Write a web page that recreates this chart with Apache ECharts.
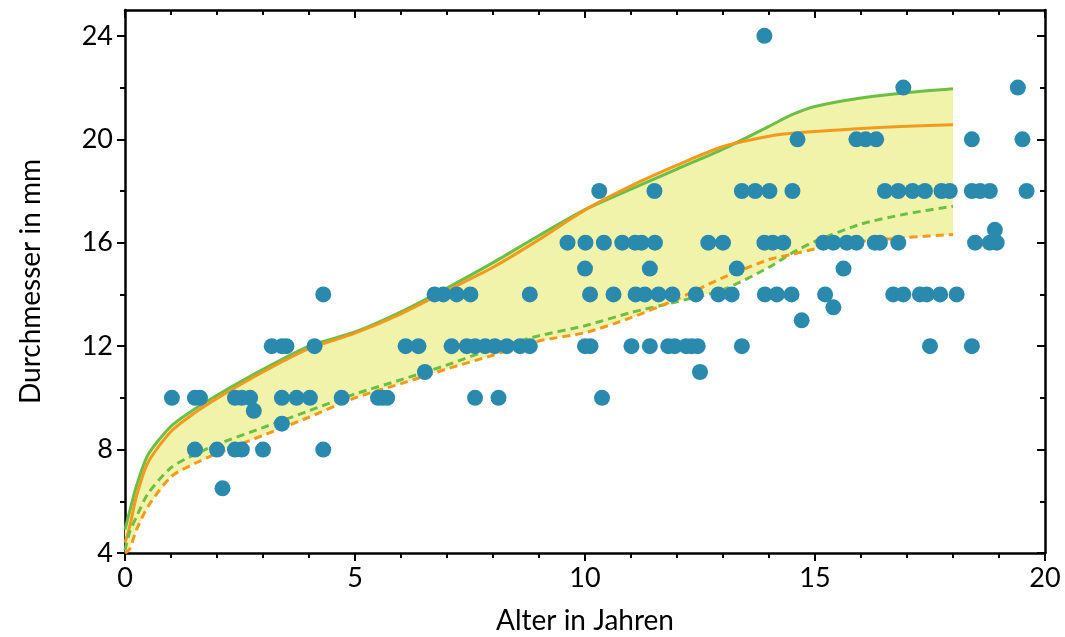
<!DOCTYPE html>
<html>
<head>
<meta charset="utf-8">
<script src="https://cdn.jsdelivr.net/npm/echarts@6/dist/echarts.min.js"></script>
<style>
  html, body { margin: 0; padding: 0; background: #ffffff; }
  #chart { width: 1065px; height: 637px; }
</style>
</head>
<body>
<div id="chart"></div>
<script>
// Kurven (Stützstellen in Jahren)
const curveX = [0, 0.1, 0.25, 0.5, 1, 1.5, 2, 3, 4, 5, 6, 7, 8, 9, 10, 11, 12, 13, 14, 14.5, 15, 16, 17, 18];
const greenUpper = [4.9, 5.6, 6.6, 7.8, 8.9, 9.55, 10.1, 11.1, 12.0, 12.55, 13.33, 14.25, 15.23, 16.28, 17.28, 18.07, 18.85, 19.62, 20.5, 20.95, 21.27, 21.6, 21.8, 21.95];
const orangeUpper = [4.4, 5.0, 6.2, 7.5, 8.7, 9.4, 9.98, 11.0, 11.9, 12.5, 13.25, 14.15, 15.05, 16.12, 17.27, 18.2, 19.0, 19.72, 20.12, 20.23, 20.3, 20.42, 20.5, 20.56];
const greenLower = [4.1, 4.8, 5.4, 6.3, 7.3, 7.8, 8.2, 8.85, 9.5, 10.15, 10.7, 11.27, 11.9, 12.4, 12.79, 13.3, 13.72, 14.18, 15.05, 15.6, 16.05, 16.72, 17.12, 17.41];
const orangeLower = [4.0, 4.15, 4.9, 5.8, 6.95, 7.45, 7.85, 8.55, 9.25, 10.0, 10.55, 11.12, 11.65, 12.2, 12.52, 13.1, 13.82, 14.65, 15.35, 15.55, 15.76, 16.05, 16.2, 16.32];

// Messpunkte: Durchmesser-Stufe und die zugehörigen Alterswerte
const levels = [24, 22, 20, 18, 16.5, 16, 15, 14, 13.5, 13, 12, 11, 10, 9.5, 9, 8, 6.5];
const agesAtLevel = [
  [13.9],
  [16.92, 19.41],
  [14.62, 15.9, 16.1, 16.33, 18.41, 19.51],
  [10.31, 11.51, 13.41, 13.7, 14.01, 14.51, 16.52, 16.81, 17.12, 17.39, 17.75, 17.93, 18.41, 18.59, 18.8, 19.6],
  [18.91],
  [9.62, 10.01, 10.41, 10.81, 11.09, 11.23, 11.52, 12.68, 13.0, 13.9, 14.08, 14.31, 15.18, 15.4, 15.69, 15.9, 16.3, 16.41, 16.81, 18.48, 18.8, 18.95],
  [10.0, 11.41, 13.3, 15.62],
  [4.31, 6.73, 6.92, 7.21, 7.51, 8.8, 10.11, 10.62, 11.1, 11.3, 11.6, 11.9, 12.41, 12.9, 13.19, 13.91, 14.17, 14.49, 15.22, 16.7, 16.92, 17.28, 17.43, 17.72, 18.08],
  [15.4],
  [14.71],
  [3.19, 3.41, 3.51, 4.12, 6.1, 6.38, 7.1, 7.43, 7.61, 7.83, 8.04, 8.3, 8.59, 8.8, 10.0, 10.12, 11.01, 11.41, 11.81, 11.95, 12.2, 12.32, 12.45, 13.41, 17.5, 18.41],
  [6.52, 12.5],
  [1.02, 1.52, 1.63, 2.39, 2.54, 2.72, 3.41, 3.73, 4.02, 4.71, 5.5, 5.6, 5.7, 7.61, 8.12, 10.37],
  [2.8],
  [3.41],
  [1.52, 2.0, 2.39, 2.54, 3.0, 4.31],
  [2.12]
];

const yMajor = [4, 8, 12, 16, 20, 24];
const yMinor = [6, 10, 14, 18, 22];

const points = [];
levels.forEach((lv, i) => agesAtLevel[i].forEach(a => points.push([a, lv])));

const pair = (ys) => curveX.map((x, i) => [x, ys[i]]);
const bandTop = curveX.map((x, i) => [x, Math.max(greenUpper[i], orangeUpper[i])]);
const bandBottom = curveX.map((x, i) => [x, Math.min(greenLower[i], orangeLower[i])]);

const font = 'Lato';
const black = '#000000';

function yAx(position, ticks, len, inside, showLine, showLabels) {
  return {
    type: 'value', min: 4, max: 25, position: position,
    axisLine: { show: showLine, onZero: false, lineStyle: { color: black, width: 2.5 } },
    axisTick: { show: true, inside: inside, length: len, customValues: ticks, lineStyle: { color: black, width: 2 } },
    axisLabel: showLabels ? { show: true, customValues: yMajor, color: black, fontFamily: font, fontSize: 27, margin: 12 } : { show: false },
    splitLine: { show: false },
    name: showLabels ? 'Durchmesser in mm' : '',
    nameLocation: 'middle', nameGap: 80,
    nameTextStyle: { color: black, fontFamily: font, fontSize: 28 }
  };
}

let myChart = echarts.init(document.getElementById('chart'));
let option = {
  backgroundColor: '#ffffff',
  animation: false,
  grid: { left: 125, right: 20, top: 10, bottom: 84, containLabel: false, outerBoundsMode: 'none' },
  xAxis: [{
    type: 'value', min: 0, max: 20, interval: 5, position: 'bottom',
    axisLine: { onZero: false, lineStyle: { color: black, width: 2.5 } },
    axisTick: { inside: false, length: 8, lineStyle: { color: black, width: 2 } },
    minorTick: { show: true, splitNumber: 5, length: 5, lineStyle: { color: black, width: 2 } },
    axisLabel: { color: black, fontFamily: font, fontSize: 27, margin: 12 },
    splitLine: { show: false },
    name: 'Alter in Jahren', nameLocation: 'middle', nameGap: 54,
    nameTextStyle: { color: black, fontFamily: font, fontSize: 28 }
  }, {
    type: 'value', min: 0, max: 20, interval: 5, position: 'top',
    axisLine: { onZero: false, lineStyle: { color: black, width: 2.5 } },
    axisTick: { inside: true, length: 8, lineStyle: { color: black, width: 2 } },
    minorTick: { show: true, splitNumber: 5, length: 5, lineStyle: { color: black, width: 2 } },
    axisLabel: { show: false },
    splitLine: { show: false }
  }],
  yAxis: [
    yAx('left', yMajor, 8, false, true, true),
    yAx('right', yMajor, 8, true, true, false),
    yAx('left', yMinor, 5, false, false, false),
    yAx('right', yMinor, 5, true, false, false)
  ],
  series: [{
    // gelbes Band zwischen oberer und unterer Kurve
    name: 'band', type: 'custom', data: [0], silent: true, z: 1,
    renderItem: function (params, api) {
      const top = bandTop.map(p => api.coord(p));
      const bottom = bandBottom.map(p => api.coord(p)).reverse();
      return {
        type: 'polygon',
        shape: { points: top.concat(bottom) },
        style: { fill: '#f2f3aa' }
      };
    }
  }, {
    name: 'grünOben', type: 'line', data: pair(greenUpper), smooth: 0.25, symbol: 'none',
    lineStyle: { color: '#6cbf45', width: 3 }, z: 3
  }, {
    name: 'orangeOben', type: 'line', data: pair(orangeUpper), smooth: 0.25, symbol: 'none',
    lineStyle: { color: '#f39a1e', width: 3 }, z: 3
  }, {
    name: 'grünUnten', type: 'line', data: pair(greenLower), smooth: 0.25, symbol: 'none',
    lineStyle: { color: '#6cbf45', width: 3, type: [8, 5] }, z: 3
  }, {
    name: 'orangeUnten', type: 'line', data: pair(orangeLower), smooth: 0.25, symbol: 'none',
    lineStyle: { color: '#f39a1e', width: 3, type: [8, 5] }, z: 3
  }, {
    name: 'Messwerte', type: 'scatter', data: points, symbolSize: 16,
    itemStyle: { color: '#2a8aad', opacity: 1 }, z: 5
  }]
};
myChart.setOption(option);
</script>
</body>
</html>
